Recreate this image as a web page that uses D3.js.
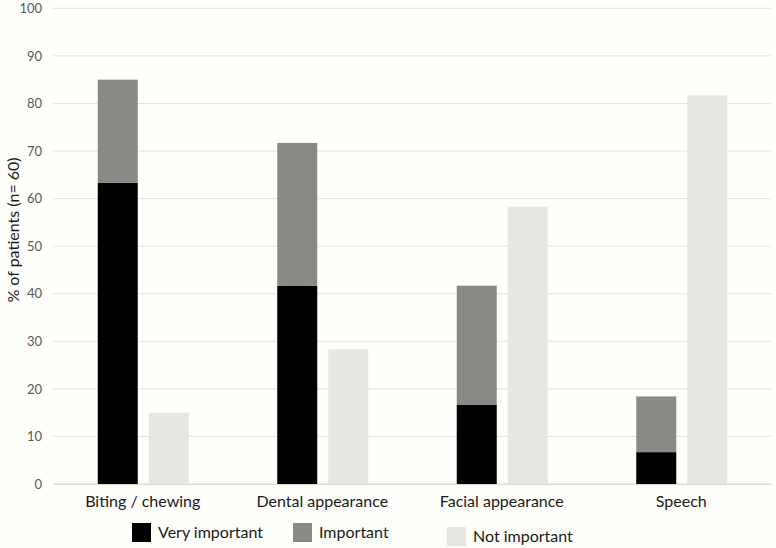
<!DOCTYPE html>
<html><head><meta charset="utf-8">
<script src="https://cdn.jsdelivr.net/npm/d3@7"></script>
<style>body{margin:0;background:#fefefb;}svg{display:block;}</style>
</head><body>
<svg id="c" width="776" height="548"></svg>
<script>
const categories = ["Biting / chewing", "Dental appearance", "Facial appearance", "Speech"];
const veryImportant = [63.3, 41.7, 16.7, 6.7];
const important = [21.7, 30.0, 25.0, 11.7];
const notImportant = [15.0, 28.3, 58.3, 81.7];
const yTicks = [0,10,20,30,40,50,60,70,80,90,100];
const legendLabels = ["Very important", "Important", "Not important"];
const colors = ["#000000", "#898a85", "#e6e6e3"];

const svg = d3.select("#c");
const font = "Lato, 'Open Sans', sans-serif";
const x0 = 53, x1 = 771, yBase = 484, yTop = 8.3;
const x = d3.scaleBand().domain(categories).range([x0, x1]).padding(0);
const y = d3.scaleLinear().domain([0, 100]).range([yBase, yTop]);

// gridlines
svg.append("g").selectAll("line").data(yTicks).join("line")
  .attr("x1", x0).attr("x2", x1)
  .attr("y1", d => y(d)).attr("y2", d => y(d))
  .attr("stroke", "#e2e2e0").attr("stroke-width", 1);

// y axis
const yAxis = svg.append("g").attr("transform", `translate(${x0},0)`)
  .call(d3.axisLeft(y).tickValues(yTicks).tickSize(0).tickPadding(11));
yAxis.select(".domain").remove();
yAxis.selectAll("text").attr("font-family", font).attr("font-size", 13).attr("fill", "#595959");

// x axis labels
const xAxis = svg.append("g").attr("transform", `translate(0,${yBase})`)
  .call(d3.axisBottom(x).tickSize(0).tickPadding(12));
xAxis.select(".domain").attr("stroke", "#d9d9d7");
xAxis.selectAll("text").attr("font-family", font).attr("font-size", 16).attr("fill", "#1a1a1a");

const bw = 40, gap = 11;
const cx = c => x(c) + x.bandwidth() / 2;
const leftX = c => cx(c) - bw - gap / 2 + 0.5;
const rightX = c => cx(c) + gap / 2 + 0.5;

const data = categories.map((c, i) => ({c, v: veryImportant[i], im: important[i], n: notImportant[i]}));
const g = svg.append("g");
g.selectAll(".vi").data(data).join("rect")
  .attr("x", d => leftX(d.c)).attr("width", bw)
  .attr("y", d => y(d.v)).attr("height", d => y(0) - y(d.v)).attr("fill", colors[0]);
g.selectAll(".im").data(data).join("rect")
  .attr("x", d => leftX(d.c)).attr("width", bw)
  .attr("y", d => y(d.v + d.im)).attr("height", d => y(d.v) - y(d.v + d.im)).attr("fill", colors[1]);
g.selectAll(".ni").data(data).join("rect")
  .attr("x", d => rightX(d.c)).attr("width", bw)
  .attr("y", d => y(d.n)).attr("height", d => y(0) - y(d.n)).attr("fill", colors[2]);

// y title
svg.append("text").attr("transform", "translate(19,230) rotate(-90)")
  .attr("text-anchor", "middle").attr("font-family", font).attr("font-size", 16).attr("fill", "#1a1a1a")
  .text("% of patients (n= 60)");

// legend
const legendPos = [{x:132, y:523}, {x:293, y:523}, {x:447, y:527}];
legendLabels.forEach((l, i) => {
  const p = legendPos[i];
  svg.append("rect").attr("x", p.x).attr("y", p.y).attr("width", 19).attr("height", 19).attr("fill", colors[i]);
  svg.append("text").attr("x", p.x + 26).attr("y", p.y + 15)
    .attr("font-family", font).attr("font-size", 16).attr("fill", "#1a1a1a").text(l);
});
</script>
</body></html>
